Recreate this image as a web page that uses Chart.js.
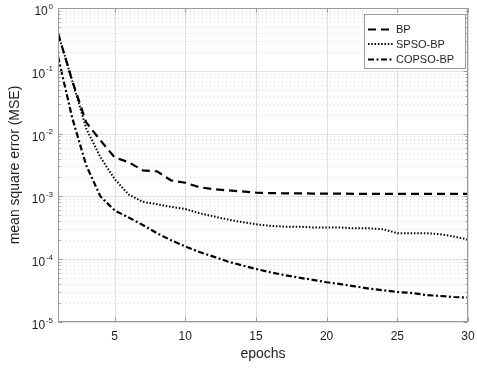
<!DOCTYPE html>
<html>
<head>
<meta charset="utf-8">
<script src="https://cdn.jsdelivr.net/npm/chart.js@4.4.0/dist/chart.umd.min.js"></script>
<style>
  body { margin: 0; background: #fff; }
  #wrap { width: 477px; height: 369px; }
</style>
</head>
<body>
<div id="wrap"><canvas id="mseChart" width="477" height="369"></canvas></div>
<script>
// data (MSE per epoch)
const epochs = [1, 2, 3, 4, 5, 6, 7, 8, 9, 10, 11, 12, 13, 14, 15,
  16, 17, 18, 19, 20, 21, 22, 23, 24, 25, 26, 27, 28, 29, 30];
const bpMSE = [0.40, 0.07, 0.015, 0.0078, 0.0042, 0.0035, 0.0026, 0.0025, 0.0018, 0.00165,
  0.0014, 0.0013, 0.00125, 0.0012, 0.00115, 0.00113, 0.00112, 0.00112, 0.00111, 0.00111,
  0.00111, 0.0011, 0.0011, 0.0011, 0.0011, 0.0011, 0.0011, 0.0011, 0.0011, 0.0011];
const spsoMSE = [0.40, 0.07, 0.012, 0.0042, 0.0019, 0.00107, 0.00082, 0.00075, 0.00068, 0.00063,
  0.00054, 0.00048, 0.00043, 0.00039, 0.00036, 0.00034, 0.00033, 0.00033, 0.00032, 0.00032,
  0.00032, 0.00031, 0.00031, 0.0003, 0.00026, 0.00026, 0.00026, 0.00025, 0.00023, 0.000205];
const copsoMSE = [0.17, 0.018, 0.0031, 0.001, 0.0006, 0.00046, 0.00035, 0.00026, 0.0002, 0.00016,
  0.00013, 0.00011, 0.000092, 0.00008, 0.00007, 0.000062, 0.000056, 0.000051, 0.000047, 0.000043,
  0.00004, 0.000037, 0.000034, 0.000032, 0.00003, 0.000029, 0.000027, 0.000026, 0.000025, 0.0000245];
const seriesNames = ['BP', 'SPSO-BP', 'COPSO-BP'];
const xTicks = [5, 10, 15, 20, 25, 30];
const yDecades = [-5, -4, -3, -2, -1, 0];

const FONT = '"Liberation Sans", Arial, Helvetica, sans-serif';
const AXIS_COLOR = '#9a9a9a';
const TEXT_COLOR = '#1e1e1e';

function toPoints(values) {
  return values.map((v, i) => ({ x: epochs[i], y: v }));
}

function hLine(ctx, x1, x2, y) {
  ctx.beginPath();
  ctx.moveTo(x1, y);
  ctx.lineTo(x2, y);
  ctx.stroke();
}
function vLine(ctx, x, y1, y2) {
  ctx.beginPath();
  ctx.moveTo(x, y1);
  ctx.lineTo(x, y2);
  ctx.stroke();
}

// grid drawn by hand so minor lines can be dotted and major solid
const gridPlugin = {
  id: 'matlabGrid',
  beforeDatasetsDraw(chart) {
    const ctx = chart.ctx;
    const a = chart.chartArea;
    const xs = chart.scales.x;
    const ys = chart.scales.y;
    ctx.save();
    ctx.lineWidth = 1;

    ctx.strokeStyle = '#d6d6d6';
    ctx.setLineDash([1, 3]);
    for (const d of yDecades) {
      if (d === 0) continue;
      for (let m = 2; m <= 9; m++) {
        const y = Math.round(ys.getPixelForValue(m * Math.pow(10, d))) + 0.5;
        hLine(ctx, a.left, a.right, y);
      }
    }

    ctx.setLineDash([]);
    ctx.strokeStyle = '#e0e0e0';
    for (const d of yDecades) {
      const y = Math.round(ys.getPixelForValue(Math.pow(10, d))) + 0.5;
      hLine(ctx, a.left, a.right, y);
    }
    for (const t of xTicks) {
      const x = Math.round(xs.getPixelForValue(t)) + 0.5;
      vLine(ctx, x, a.top, a.bottom);
    }
    ctx.restore();
  }
};

// axes box, tick marks, labels and the legend box
const axesPlugin = {
  id: 'matlabAxes',
  afterDatasetsDraw(chart) {
    const ctx = chart.ctx;
    const a = chart.chartArea;
    const xs = chart.scales.x;
    const ys = chart.scales.y;
    const L = Math.round(a.left) + 0.5, R = Math.round(a.right) - 0.5;
    const T = Math.round(a.top) + 0.5, B = Math.round(a.bottom) - 0.5;
    ctx.save();
    ctx.setLineDash([]);
    ctx.strokeStyle = AXIS_COLOR;
    ctx.lineWidth = 1;
    ctx.strokeRect(L, T, R - L, B - T);

    // x ticks (inward, bottom and top)
    for (const t of xTicks) {
      const x = Math.round(xs.getPixelForValue(t)) + 0.5;
      vLine(ctx, x, B, B - 4);
      vLine(ctx, x, T, T + 4);
    }
    // y ticks, major and minor, left and right
    for (const d of yDecades) {
      const y = Math.round(ys.getPixelForValue(Math.pow(10, d))) + 0.5;
      hLine(ctx, L, L + 4, y);
      hLine(ctx, R, R - 4, y);
      if (d === 0) continue;
      for (let m = 2; m <= 9; m++) {
        const ym = Math.round(ys.getPixelForValue(m * Math.pow(10, d))) + 0.5;
        hLine(ctx, L, L + 2, ym);
        hLine(ctx, R, R - 2, ym);
      }
    }

    ctx.fillStyle = TEXT_COLOR;
    // x tick labels
    ctx.font = '12px ' + FONT;
    ctx.textAlign = 'center';
    ctx.textBaseline = 'alphabetic';
    for (const t of xTicks) {
      ctx.fillText(String(t), xs.getPixelForValue(t), 340);
    }
    // y tick labels as 10 with a raised exponent
    ctx.textAlign = 'left';
    for (const d of yDecades) {
      const y = ys.getPixelForValue(Math.pow(10, d));
      const expText = String(d);
      ctx.font = '8px ' + FONT;
      const expW = ctx.measureText(expText).width;
      ctx.font = '12px ' + FONT;
      const tenW = ctx.measureText('10').width;
      const right = 53;
      ctx.fillText('10', right - expW - 0.8 - tenW, y + 7);
      ctx.font = '8px ' + FONT;
      ctx.fillText(expText, right - expW, y + 0.5);
    }

    // axis titles
    ctx.font = '14px ' + FONT;
    ctx.textAlign = 'center';
    ctx.fillText('epochs', (a.left + a.right) / 2, 358);
    ctx.save();
    ctx.translate(18.5, (a.top + a.bottom) / 2);
    ctx.rotate(-Math.PI / 2);
    ctx.fillText('mean square error (MSE)', 0, 0);
    ctx.restore();

    // legend
    const box = { x: 364.5, y: 14.5, w: 101, h: 54 };
    ctx.fillStyle = '#ffffff';
    ctx.fillRect(box.x, box.y, box.w, box.h);
    ctx.strokeStyle = AXIS_COLOR;
    ctx.strokeRect(box.x, box.y, box.w, box.h);
    const rowY = [29.5, 44, 59.5];
    ctx.font = '11px ' + FONT;
    ctx.textAlign = 'left';
    ctx.textBaseline = 'middle';
    chart.data.datasets.forEach((ds, i) => {
      ctx.strokeStyle = ds.borderColor;
      ctx.lineWidth = ds.borderWidth;
      ctx.setLineDash(ds.borderDash);
      hLine(ctx, 368, 394, rowY[i]);
      ctx.setLineDash([]);
      ctx.fillStyle = TEXT_COLOR;
      ctx.fillText(ds.label, 396, rowY[i] + 0.5);
    });
    ctx.restore();
  }
};

const ctx = document.getElementById('mseChart').getContext('2d');
const mseChart = new Chart(ctx, {
  type: 'line',
  data: {
    datasets: [{
      label: seriesNames[0],
      data: toPoints(bpMSE),
      borderColor: '#000000',
      borderWidth: 2.2,
      borderDash: [8, 5],
      pointRadius: 0,
      tension: 0,
      fill: false
    }, {
      label: seriesNames[1],
      data: toPoints(spsoMSE),
      borderColor: '#000000',
      borderWidth: 2,
      borderDash: [1.5, 1.8],
      pointRadius: 0,
      tension: 0,
      fill: false
    }, {
      label: seriesNames[2],
      data: toPoints(copsoMSE),
      borderColor: '#000000',
      borderWidth: 2.2,
      borderDash: [6, 2.5, 2, 2.5],
      pointRadius: 0,
      tension: 0,
      fill: false
    }]
  },
  options: {
    responsive: false,
    animation: false,
    devicePixelRatio: 1,
    layout: { padding: { left: 58, top: 8, right: 9, bottom: 47 } },
    plugins: {
      legend: { display: false },
      tooltip: { enabled: false }
    },
    scales: {
      x: { type: 'linear', min: 1, max: 30, display: false },
      y: { type: 'logarithmic', min: 1e-5, max: 1, display: false }
    }
  },
  plugins: [gridPlugin, axesPlugin]
});
</script>
</body>
</html>
